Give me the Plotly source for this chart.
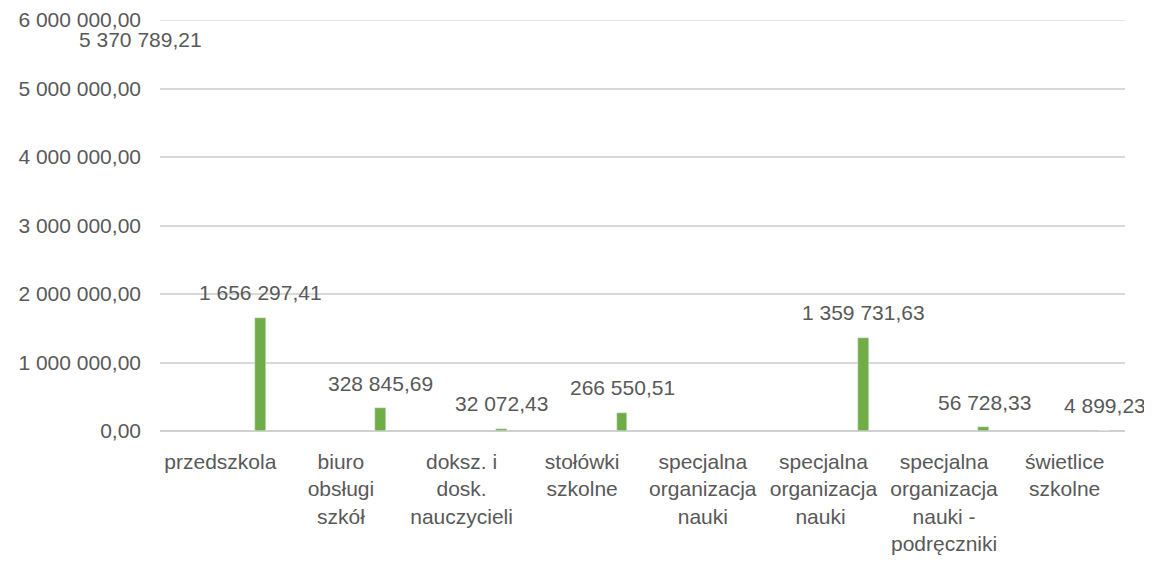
import plotly.graph_objects as go

categories = [
    "przedszkola",
    "biuro<br>obsługi<br>szkół",
    "doksz. i<br>dosk.<br>nauczycieli",
    "stołówki<br>szkolne",
    "specjalna<br>organizacja<br>nauki",
    "specjalna<br>organizacja<br>nauki ",
    "specjalna<br>organizacja<br>nauki -<br>podręczniki",
    "świetlice<br>szkolne",
]
amounts = [1656297.41, 328845.69, 32072.43, 266550.51, None, 1359731.63, 56728.33, 4899.23]
# label of the first (unfilled) series, shown left of the first category
other_amounts = [5370789.21, None, None, None, None, None, None, None]

y_ticks = [0, 1000000, 2000000, 3000000, 4000000, 5000000, 6000000]

GREEN = "#70AD47"
TEXT = "#595959"
GRID = "#D9D9D9"
FONT = "Liberation Sans"
SIZE = 21


def fmt(v):
    whole, frac = f"{v:,.2f}".split(".")
    return whole.replace(",", " ") + "," + frac


fig = go.Figure()
fig.add_trace(
    go.Bar(
        x=categories,
        y=amounts,
        marker={"color": GREEN},
        width=0.09,
        offset=0.285,
        hoverinfo="x+y",
    )
)

annotations = []
for cat, v in zip(categories, amounts):
    if v is None:
        continue
    annotations.append(
        dict(x=cat, y=v, xref="x", yref="y", text=fmt(v), showarrow=False,
             xshift=40, yshift=25, font={"family": FONT, "size": SIZE, "color": TEXT})
    )
for cat, v in zip(categories, other_amounts):
    if v is None:
        continue
    annotations.append(
        dict(x=cat, y=v, xref="x", yref="y", text=fmt(v), showarrow=False,
             xshift=-80, yshift=24, font={"family": FONT, "size": SIZE, "color": TEXT})
    )

# top gridline sits on the edge of the plot area, plotly skips it
fig.add_hline(y=y_ticks[-1], line_color=GRID, line_width=1.5, layer="below")

# page body has an 8px margin, so the figure is sized to fit the window
fig.update_layout(
    width=1144,
    height=557,
    margin={"l": 152, "r": 27, "t": 12, "b": 134},
    paper_bgcolor="white",
    plot_bgcolor="white",
    showlegend=False,
    bargap=0,
    separators=", ",
    font={"family": FONT, "size": SIZE, "color": TEXT},
    annotations=annotations,
    xaxis={
        "type": "category",
        "range": [-0.5, 7.5],
        "automargin": False,
        "showgrid": False,
        "showline": False,
        "ticks": "",
        "tickangle": 0,
        "ticklabelstandoff": 16,
        "tickfont": {"family": FONT, "size": SIZE, "color": TEXT},
    },
    yaxis={
        "range": [0, 6000000],
        "automargin": False,
        "tickvals": y_ticks,
        "tickformat": ",.2f",
        "showgrid": True,
        "gridcolor": GRID,
        "gridwidth": 1.5,
        "zeroline": True,
        "zerolinecolor": "#D0D0D0",
        "zerolinewidth": 1.5,
        "showline": False,
        "ticks": "",
        "ticklabelstandoff": 18,
        "tickfont": {"family": FONT, "size": SIZE, "color": TEXT},
    },
)

fig.write_html("out.html")
